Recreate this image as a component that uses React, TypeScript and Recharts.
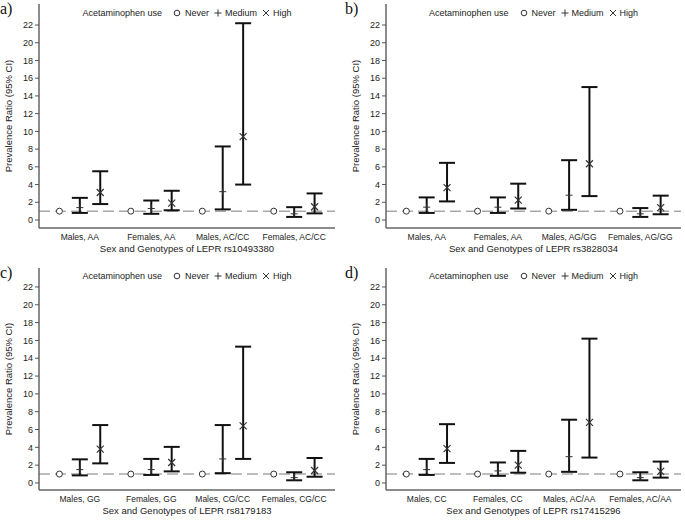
import React from 'react';
import {
  ComposedChart,
  Scatter,
  XAxis,
  YAxis,
  ErrorBar,
  ReferenceLine
} from 'recharts';

// category labels per panel
const catsA = ['Males, AA', 'Females, AA', 'Males, AC/CC', 'Females, AC/CC'];
const catsB = ['Males, AA', 'Females, AA', 'Males, AG/GG', 'Females, AG/GG'];
const catsC = ['Males, GG', 'Females, GG', 'Males, CG/CC', 'Females, CG/CC'];
const catsD = ['Males, CC', 'Females, CC', 'Males, AC/AA', 'Females, AC/AA'];

// prevalence ratio estimates + 95% CI  (never = reference, always 1)
const medA = [1.4, 1.3, 3.2, 0.7];
const medCiA = [[0.8, 2.5], [0.7, 2.2], [1.2, 8.3], [0.35, 1.45]];
const highA = [3.1, 1.9, 9.4, 1.5];
const highCiA = [[1.8, 5.5], [1.1, 3.3], [4.0, 22.2], [0.75, 3.0]];

const medB = [1.45, 1.45, 2.8, 0.7];
const medCiB = [[0.8, 2.55], [0.8, 2.55], [1.15, 6.75], [0.35, 1.35]];
const highB = [3.65, 2.25, 6.35, 1.4];
const highCiB = [[2.1, 6.45], [1.3, 4.1], [2.7, 15.0], [0.65, 2.75]];

const medC = [1.5, 1.5, 2.7, 0.6];
const medCiC = [[0.85, 2.65], [0.9, 2.7], [1.1, 6.5], [0.3, 1.2]];
const highC = [3.8, 2.3, 6.4, 1.4];
const highCiC = [[2.2, 6.5], [1.3, 4.05], [2.7, 15.3], [0.7, 2.8]];

const medD = [1.5, 1.35, 2.95, 0.6];
const medCiD = [[0.9, 2.7], [0.8, 2.3], [1.25, 7.1], [0.3, 1.2]];
const highD = [3.85, 2.0, 6.8, 1.3];
const highCiD = [[2.25, 6.6], [1.15, 3.6], [2.85, 16.2], [0.6, 2.4]];

const yTicks = [0, 2, 4, 6, 8, 10, 12, 14, 16, 18, 20, 22];
const xTicks = [1, 4.5, 8, 11.5];
const xDomain: [number, number] = [-1, 13.5];

const FONT = '"Liberation Sans", Arial, sans-serif';
const FRAME = { stroke: '#666', strokeWidth: 1.5 };

const NeverDot = (p: any) => (
  <circle cx={p.cx} cy={p.cy} r={3} fill="#fff" stroke="#333" strokeWidth={1} />
);
const PlusDot = (p: any) => (
  <path d={`M${p.cx - 3.5},${p.cy}h7M${p.cx},${p.cy - 3.5}v7`} stroke="#333" strokeWidth={1} fill="none" />
);
const CrossDot = (p: any) => (
  <path
    d={`M${p.cx - 3.5},${p.cy - 3.5}l7,7M${p.cx - 3.5},${p.cy + 3.5}l7,-7`}
    stroke="#333"
    strokeWidth={1.2}
    fill="none"
  />
);

const build = (cats: string[], est: number[], ci: number[][], k: number) =>
  cats.map((_, g) => ({
    x: g * 3.5 + k,
    y: est[g],
    err: [est[g] - ci[g][0], ci[g][1] - est[g]]
  }));

const txt = { color: '#222' };

const Legendish = ({ left, width, top }: { left: number; width: number; top: number }) => (
  <div
    style={{
      position: 'absolute',
      left,
      width,
      top,
      display: 'flex',
      justifyContent: 'center',
      alignItems: 'center',
      fontSize: 9,
      fontFamily: FONT,
      color: '#222',
      lineHeight: '10px',
      whiteSpace: 'nowrap'
    }}
  >
    <span style={{ ...txt, marginRight: 11 }}>Acetaminophen use</span>
    <svg width={8} height={8} style={{ marginRight: 4 }}>
      <circle cx={4} cy={4} r={2.8} fill="none" stroke="#333" strokeWidth={1} />
    </svg>
    <span style={{ ...txt, marginRight: 5 }}>Never</span>
    <svg width={8} height={8} style={{ marginRight: 3 }}>
      <path d="M0.5,4h7M4,0.5v7" stroke="#333" strokeWidth={1} />
    </svg>
    <span style={{ ...txt, marginRight: 5 }}>Medium</span>
    <svg width={8} height={8} style={{ marginRight: 3 }}>
      <path d="M1,1l6,6M1,7l6,-6" stroke="#333" strokeWidth={1} />
    </svg>
    <span style={txt}>High</span>
  </div>
);

interface PanelProps {
  letter: string;
  left: number;
  top: number;
  height: number;
  mLeft: number;
  mRight: number;
  domain: [number, number];
  cats: string[];
  snp: string;
  med: number[];
  medCi: number[][];
  high: number[];
  highCi: number[][];
  legendTop: number;
}

const Panel: React.FC<PanelProps> = (p) => {
  const width = 340;
  const yw = 34;
  const never = p.cats.map((_, g) => ({ x: g * 3.5, y: 1 }));
  const medium = build(p.cats, p.med, p.medCi, 1);
  const high = build(p.cats, p.high, p.highCi, 2);
  const plotLeft = p.mLeft + yw;
  const plotW = width - plotLeft - p.mRight;
  return (
    <div style={{ position: 'absolute', left: p.left, top: p.top, width, height: p.height }}>
      <ComposedChart
        width={width}
        height={p.height}
        margin={{ top: 4, right: p.mRight, left: p.mLeft, bottom: 0 }}
      >
        <XAxis
          type="number"
          dataKey="x"
          domain={xDomain}
          ticks={xTicks}
          interval={0}
          allowDataOverflow
          axisLine={FRAME}
          tickLine={false}
          tickMargin={0}
          height={27}
          tickFormatter={(v: number) => p.cats[xTicks.indexOf(v)] ?? ''}
          tick={{ fontSize: 8.5, fill: '#222', fontFamily: FONT }}
          label={{
            value: `Sex and Genotypes of LEPR ${p.snp}`,
            position: 'insideBottom',
            offset: 3,
            style: { fontSize: 9.5, fill: '#222', fontFamily: FONT }
          }}
        />
        <XAxis
          xAxisId="top"
          orientation="top"
          type="number"
          dataKey="x"
          domain={xDomain}
          allowDataOverflow
          height={0}
          tick={false}
          tickLine={false}
          axisLine={FRAME}
        />
        <YAxis
          type="number"
          domain={p.domain}
          ticks={yTicks}
          interval={0}
          allowDataOverflow
          width={yw}
          axisLine={FRAME}
          tickSize={4}
          tickLine={{ stroke: '#555' }}
          tick={{ fontSize: 9, fill: '#222', fontFamily: FONT }}
          label={{
            value: 'Prevalence Ratio (95% CI)',
            angle: -90,
            position: 'insideLeft',
            offset: 4,
            style: { textAnchor: 'middle', fontSize: 9.5, fill: '#222', fontFamily: FONT }
          }}
        />
        <YAxis
          yAxisId="right"
          orientation="right"
          type="number"
          domain={p.domain}
          allowDataOverflow
          width={0}
          tick={false}
          tickLine={false}
          axisLine={FRAME}
        />
        <ReferenceLine y={1} stroke="#a8a8a8" strokeWidth={1.5} strokeDasharray="11 5" />
        <Scatter data={never} dataKey="y" shape={NeverDot} isAnimationActive={false} />
        <Scatter data={medium} dataKey="y" shape={PlusDot} isAnimationActive={false}>
          <ErrorBar dataKey="err" direction="y" width={8} stroke="#111" strokeWidth={2} />
        </Scatter>
        <Scatter data={high} dataKey="y" shape={CrossDot} isAnimationActive={false}>
          <ErrorBar dataKey="err" direction="y" width={8} stroke="#111" strokeWidth={2} />
        </Scatter>
      </ComposedChart>
      <Legendish left={plotLeft} width={plotW} top={p.legendTop} />
      <div
        style={{
          position: 'absolute',
          left: 0,
          top: 1,
          fontFamily: '"Liberation Serif", "Times New Roman", serif',
          fontSize: 16,
          lineHeight: '16px',
          color: '#111'
        }}
      >
        {p.letter}
      </div>
    </div>
  );
};

export default function App() {
  const topDomain: [number, number] = [-0.9, 24.37];
  const botDomain: [number, number] = [-0.79, 24.13];
  return (
    <div
      style={{
        position: 'absolute',
        left: 0,
        top: 0,
        width: 685,
        height: 520,
        background: '#fff',
        fontFamily: FONT
      }}
    >
      <Panel letter="a)" left={0} top={0} height={255} mLeft={5} mRight={5} domain={topDomain}
        cats={catsA} snp="rs10493380" med={medA} medCi={medCiA} high={highA} highCi={highCiA} legendTop={8} />
      <Panel letter="b)" left={345} top={0} height={255} mLeft={7} mRight={4} domain={topDomain}
        cats={catsB} snp="rs3828034" med={medB} medCi={medCiB} high={highB} highCi={highCiB} legendTop={8} />
      <Panel letter="c)" left={0} top={264} height={253} mLeft={5} mRight={5} domain={botDomain}
        cats={catsC} snp="rs8179183" med={medC} medCi={medCiC} high={highC} highCi={highCiC} legendTop={7} />
      <Panel letter="d)" left={345} top={264} height={253} mLeft={7} mRight={4} domain={botDomain}
        cats={catsD} snp="rs17415296" med={medD} medCi={medCiD} high={highD} highCi={highCiD} legendTop={7} />
    </div>
  );
}
